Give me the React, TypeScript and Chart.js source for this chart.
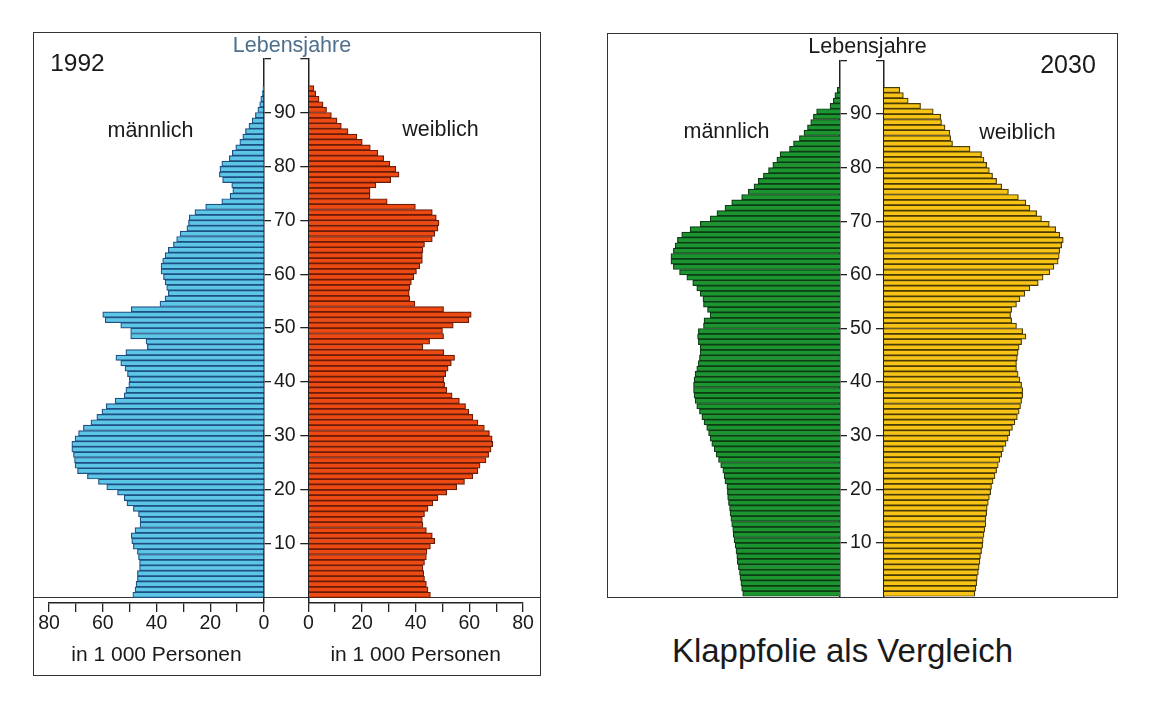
import React, { useEffect, useRef } from 'react';
import { Chart, registerables } from 'chart.js';

Chart.register(...registerables);

const FONT = '"Liberation Sans", Arial, Helvetica, sans-serif';
const INK = '#1a1a1a';

// ages 0..94 (one bar per year of age)
const AGES: number[] = Array.from({ length: 95 }, (_, i) => i);
const AGE_TICKS = [10, 20, 30, 40, 50, 60, 70, 80, 90, 100];
const VALUE_TICKS = [0, 10, 20, 30, 40, 50, 60, 70, 80];
const AXIS_TITLE = 'in 1 000 Personen';

// values in 1 000 persons, age 0 .. 94
const male1992 = [
  48.8, 48.0, 47.6, 47.1, 47.1, 46.3, 46.3, 46.7, 47.1, 48.6,
  49.2, 49.4, 48.0, 46.1, 46.1, 46.7, 48.6, 51.0, 52.0, 54.5,
  58.5, 61.6, 65.7, 69.4, 70.3, 70.5, 70.9, 71.5, 71.5, 70.3,
  69.0, 67.2, 64.4, 62.2, 60.3, 58.7, 55.4, 52.0, 51.4, 50.3,
  50.1, 50.8, 51.7, 53.3, 55.1, 51.4, 43.4, 43.9, 49.6, 49.6,
  53.3, 59.1, 60.0, 49.4, 38.7, 36.8, 35.6, 36.2, 36.8, 37.4,
  38.3, 38.3, 37.7, 36.8, 35.6, 33.7, 32.5, 31.2, 28.7, 28.1,
  27.8, 25.7, 21.7, 15.7, 12.6, 11.6, 12.0, 15.4, 16.6, 16.4,
  15.7, 12.9, 11.8, 10.5, 9.0, 7.9, 6.9, 5.6, 4.4, 3.2,
  2.3, 1.6, 1.2, 0.7, 0.4,
];

const female1992 = [
  45.5, 44.6, 44.0, 43.3, 43.0, 42.7, 43.3, 44.0, 44.2, 45.5,
  47.1, 46.2, 44.0, 42.7, 42.5, 43.3, 44.6, 46.4, 48.3, 51.6,
  55.3, 58.2, 61.3, 63.2, 64.0, 66.2, 67.2, 68.1, 68.7, 68.5,
  67.5, 65.6, 63.2, 61.3, 59.8, 58.6, 56.3, 53.6, 51.6, 50.8,
  50.5, 51.2, 52.1, 53.3, 54.5, 50.5, 42.7, 45.2, 50.4, 50.0,
  54.0, 59.8, 60.7, 50.4, 39.7, 37.8, 37.6, 37.8, 38.4, 39.3,
  40.3, 41.5, 42.5, 42.5, 42.7, 43.3, 46.2, 47.1, 48.3, 48.7,
  47.7, 46.2, 39.9, 29.4, 23.0, 23.0, 25.2, 30.7, 33.8, 32.6,
  30.4, 28.1, 25.9, 23.1, 20.1, 18.1, 14.8, 12.3, 10.7, 8.6,
  6.8, 5.5, 4.0, 2.8, 2.1,
];

const male2030 = [
  36.2, 36.6, 36.9, 37.2, 37.4, 37.8, 38.2, 38.4, 38.7, 39.0,
  39.4, 39.7, 39.9, 40.3, 40.6, 40.9, 41.1, 41.5, 41.8, 41.9,
  42.1, 42.8, 43.1, 43.6, 44.4, 45.2, 46.1, 46.8, 47.7, 48.3,
  48.9, 49.6, 50.6, 51.4, 52.3, 53.3, 53.9, 54.3, 54.5, 54.5,
  54.3, 53.9, 53.3, 52.7, 52.3, 52.0, 52.0, 52.7, 53.0, 52.7,
  50.8, 50.6, 48.3, 49.3, 50.8, 51.0, 52.0, 53.3, 54.8, 57.0,
  59.7, 62.0, 62.9, 62.9, 62.0, 61.3, 60.5, 58.9, 55.8, 52.0,
  48.3, 45.8, 42.8, 40.3, 36.6, 34.1, 32.0, 30.4, 28.5, 26.6,
  25.0, 23.5, 22.3, 18.8, 17.3, 15.1, 13.4, 12.1, 10.9, 9.9,
  8.7, 3.7, 2.5, 1.9, 1.0,
];

const female2030 = [
  33.8, 34.2, 34.5, 34.7, 35.1, 35.4, 35.7, 35.9, 36.3, 36.7,
  36.9, 37.2, 37.5, 37.9, 37.9, 38.2, 38.4, 38.8, 39.2, 39.7,
  40.0, 40.6, 41.3, 41.9, 42.5, 43.1, 43.8, 44.4, 45.4, 46.2,
  46.8, 47.8, 48.7, 49.6, 50.3, 50.8, 51.2, 51.6, 51.6, 51.2,
  50.6, 49.9, 49.3, 49.3, 49.6, 49.9, 50.3, 51.2, 52.8, 51.6,
  49.3, 47.5, 47.1, 47.5, 49.3, 50.6, 52.4, 54.3, 57.4, 59.2,
  61.7, 63.2, 64.8, 65.2, 65.4, 66.1, 66.7, 65.4, 63.9, 61.5,
  58.6, 56.8, 54.3, 52.8, 50.0, 46.3, 43.8, 41.9, 40.4, 39.2,
  38.2, 37.2, 36.3, 32.0, 25.5, 24.8, 24.5, 22.7, 21.4, 21.1,
  18.3, 13.6, 9.0, 7.2, 5.9,
];

type Side = 'male' | 'female';

interface HalfProps {
  left: number;
  top: number;
  width: number;
  height: number;
  values: number[];
  fill: string;
  stroke: string;
  side: Side;
  showX: boolean;
  yMin: number;
  padding: { left: number; right: number; top: number; bottom: number };
}

function PyramidHalf(p: HalfProps) {
  const ref = useRef<HTMLCanvasElement | null>(null);
  useEffect(() => {
    if (!ref.current) return;
    const isMale = p.side === 'male';
    const chart = new Chart(ref.current, {
      type: 'bar',
      data: {
        datasets: [
          {
            data: p.values.map((v, i) => ({ x: v, y: AGES[i] + 0.5 })),
            backgroundColor: p.fill,
            borderColor: p.stroke,
            borderWidth: 1.2,
            barPercentage: 1,
            categoryPercentage: 1,
          } as any,
        ],
      },
      options: {
        indexAxis: 'y',
        animation: false,
        responsive: false,
        devicePixelRatio: 1,
        layout: { padding: p.padding },
        plugins: {
          legend: { display: false },
          tooltip: { enabled: false },
          title: { display: false },
        },
        scales: {
          x: {
            type: 'linear',
            min: 0,
            max: 80,
            reverse: isMale,
            offset: false,
            display: p.showX,
            afterBuildTicks: (s: any) => {
              s.ticks = VALUE_TICKS.map((v) => ({ value: v }));
            },
            afterFit: (s: any) => {
              s.height = p.showX ? 77 : 0;
            },
            ticks: {
              autoSkip: false,
              maxRotation: 0,
              padding: 0,
              color: INK,
              font: { family: FONT, size: 19.5 },
              callback: (v: any) => (Number(v) % 20 === 0 ? String(v) : ''),
            },
            grid: {
              offset: false,
              drawOnChartArea: false,
              drawTicks: true,
              tickLength: 9,
              color: '#222',
              lineWidth: 1.3,
            },
            border: { display: true, color: '#222', width: 1.5 },
            title: {
              display: true,
              text: AXIS_TITLE,
              color: INK,
              font: { family: FONT, size: 21 },
              padding: { top: 0, bottom: 12 },
            },
          },
          y: {
            type: 'linear',
            min: p.yMin,
            max: 100,
            offset: false,
            position: isMale ? 'right' : 'left',
            afterBuildTicks: (s: any) => {
              s.ticks = AGE_TICKS.map((v) => ({ value: v }));
            },
            afterFit: (s: any) => {
              s.width = isMale ? 44 : 10;
            },
            ticks: {
              display: isMale,
              padding: 3,
              color: INK,
              font: { family: FONT, size: 19.5 },
              callback: (v: any) => (Number(v) >= 100 ? '' : String(v)),
            },
            grid: {
              offset: false,
              drawOnChartArea: false,
              drawTicks: true,
              tickLength: isMale ? 7 : 8,
              color: '#222',
              lineWidth: 1.3,
            },
            border: { display: true, color: '#222', width: 1.5 },
          },
        },
      } as any,
    });
    return () => chart.destroy();
  }, []);
  return (
    <canvas
      ref={ref}
      width={p.width}
      height={p.height}
      style={{ position: 'absolute', left: p.left, top: p.top, width: p.width, height: p.height }}
    />
  );
}

function Label(props: { x: number; y: number; size: number; text: string; color?: string }) {
  return (
    <div
      style={{
        position: 'absolute',
        left: props.x,
        top: props.y,
        transform: 'translate(-50%, -50%)',
        fontFamily: FONT,
        fontSize: props.size,
        lineHeight: 1,
        color: props.color || INK,
        whiteSpace: 'nowrap',
      }}
    >
      {props.text}
    </div>
  );
}

export default function App() {
  return (
    <div
      style={{
        position: 'absolute',
        left: 0,
        top: 0,
        width: 1150,
        height: 707,
        background: '#fff',
        overflow: 'hidden',
      }}
    >
      {/* frames */}
      <div
        style={{
          position: 'absolute',
          left: 33,
          top: 32,
          width: 508,
          height: 644,
          border: '1.5px solid #333',
          boxSizing: 'border-box',
        }}
      />
      <div style={{ position: 'absolute', left: 33, top: 596.5, width: 508, height: 1.5, background: '#333' }} />
      <div
        style={{
          position: 'absolute',
          left: 607,
          top: 33,
          width: 511,
          height: 564.5,
          border: '1.5px solid #333',
          boxSizing: 'border-box',
        }}
      />

      {/* 1992 */}
      <PyramidHalf
        left={20}
        top={40}
        width={300}
        height={640}
        values={male1992}
        fill="#5cc6e4"
        stroke="#1d4f86"
        side="male"
        showX={true}
        yMin={-1}
        padding={{ left: 29, right: 12, top: 18.6, bottom: 0 }}
      />
      <PyramidHalf
        left={290}
        top={40}
        width={260}
        height={640}
        values={female1992}
        fill="#ec4a12"
        stroke="#6a1c08"
        side="female"
        showX={true}
        yMin={-1}
        padding={{ left: 8.3, right: 27, top: 18.6, bottom: 0 }}
      />

      {/* 2030 */}
      <PyramidHalf
        left={600}
        top={40}
        width={300}
        height={575}
        values={male2030}
        fill="#1c9530"
        stroke="#0d3d14"
        side="male"
        showX={false}
        yMin={0}
        padding={{ left: 25, right: 16, top: 20.5, bottom: 18.5 }}
      />
      <PyramidHalf
        left={866}
        top={40}
        width={260}
        height={575}
        values={female2030}
        fill="#f7c315"
        stroke="#4a3a05"
        side="female"
        showX={false}
        yMin={0}
        padding={{ left: 8, right: 27, top: 20.5, bottom: 18.5 }}
      />

      {/* texts */}
      <Label x={77.5} y={62.5} size={24.5} text="1992" />
      <Label x={292} y={46} size={21.5} text="Lebensjahre" color="#4f6f8c" />
      <Label x={150.5} y={131} size={21.5} text="männlich" />
      <Label x={440.5} y={130} size={21.5} text="weiblich" />

      <Label x={1068} y={64} size={25} text="2030" />
      <Label x={867.5} y={47} size={21.5} text="Lebensjahre" />
      <Label x={726.5} y={132} size={21.5} text="männlich" />
      <Label x={1017.5} y={133} size={21.5} text="weiblich" />

      <Label x={842.5} y={650} size={33} text="Klappfolie als Vergleich" />
    </div>
  );
}
